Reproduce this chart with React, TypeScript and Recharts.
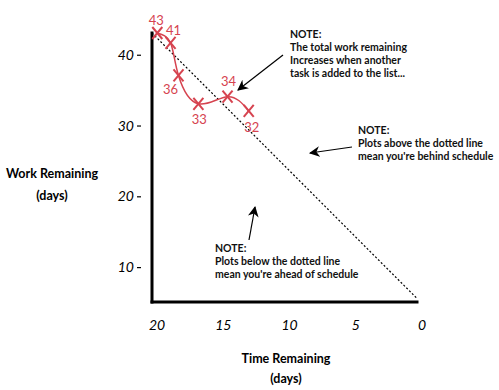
import React from "react";
import { ComposedChart, Line, XAxis, YAxis, Customized } from "recharts";

// burndown points
const timeLeft = [19.6, 18.6, 18.0, 16.5, 14.3, 12.7];
const workLeft = [43, 41.6, 37, 33, 34, 32];
const pointLabels = ["43", "41", "36", "33", "34", "32"];

// ideal burn (dotted)
const idealTime = [20, 0];
const idealWork = [43, 5.5];

const xTicks = [20, 15, 10, 5, 0];
const yTicks = [10, 20, 30, 40];

const RED = "#d6434f";
const HAND = "Lato, 'Open Sans', sans-serif";

const actual = timeLeft.map((t, i) => ({ t, work: workLeft[i], label: pointLabels[i] }));
const ideal = idealTime.map((t, i) => ({ t, ideal: idealWork[i] }));

// where each number sits relative to its cross
const labelOffset: [number, number][] = [
  [-1, -13],
  [3, -13],
  [-8, 14],
  [1, 15],
  [1, -16],
  [3, 16],
];

const CrossDot = (props: any) => {
  const { cx, cy, index } = props;
  if (cx == null || cy == null) return <g key={index} />;
  const [dx, dy] = labelOffset[index] || [0, -12];
  return (
    <g key={index}>
      <line x1={cx - 5} y1={cy - 6} x2={cx + 5} y2={cy + 6} stroke={RED} strokeWidth={2} />
      <line x1={cx + 5} y1={cy - 6} x2={cx - 5} y2={cy + 6} stroke={RED} strokeWidth={2} />
      <text x={cx + dx} y={cy + dy} textAnchor="middle" dominantBaseline="central" fill={RED} fontSize={13} fontFamily={HAND}>
        {actual[index].label}
      </text>
    </g>
  );
};

const XTick = ({ x, y, payload }: any) => (
  <text x={x + 5} y={y + 14} textAnchor="middle" dominantBaseline="central" fontSize={14} fontStyle="italic" fontFamily={HAND}>
    {payload.value}
  </text>
);

const YTick = ({ x, y, payload }: any) => (
  <g>
    <text x={x - 10} y={y} textAnchor="end" dominantBaseline="central" fontSize={14} fontStyle="italic" fontFamily={HAND}>
      {payload.value}
    </text>
    <line x1={x - 7} y1={y + 1} x2={x - 3} y2={y + 1} stroke="#000" strokeWidth={1.2} />
  </g>
);

const Note = ({ x, y, lines }: { x: number; y: number; lines: string[] }) => (
  <text x={x} y={y} fontSize={10.5} fontWeight={700} fontFamily={HAND} fill="#111">
    {lines.map((l, i) => (
      <tspan key={i} x={x} dy={i === 0 ? 0 : 13}>
        {l}
      </tspan>
    ))}
  </text>
);

const Annotations = () => (
  <g>
    <defs>
      <marker id="head" viewBox="0 0 10 10" refX="9" refY="5" markerWidth="9" markerHeight="9" orient="auto-start-reverse">
        <path d="M0,0 L10,5 L0,10 L3,5 z" fill="#000" />
      </marker>
    </defs>
    <Note x={290} y={38} lines={["NOTE:", "The total work remaining", "Increases when another", "task is added to the list..."]} />
    <line x1={283} y1={55} x2={238} y2={90} stroke="#000" strokeWidth={1.2} markerEnd="url(#head)" />

    <Note x={358} y={134} lines={["NOTE:", "Plots above the dotted line", "mean you're behind schedule"]} />
    <line x1={352} y1={147} x2={310} y2={153} stroke="#000" strokeWidth={1.2} markerEnd="url(#head)" />

    <Note x={215} y={252} lines={["NOTE:", "Plots below the dotted line", "mean you're ahead of schedule"]} />
    <line x1={249} y1={240} x2={255} y2={207} stroke="#000" strokeWidth={1.2} markerEnd="url(#head)" />

    <text x={52} y={173} textAnchor="middle" dominantBaseline="central" fontSize={12.5} fontWeight={700} fontFamily={HAND}>
      Work Remaining
    </text>
    <text x={52} y={195} textAnchor="middle" dominantBaseline="central" fontSize={12.5} fontWeight={700} fontFamily={HAND}>
      (days)
    </text>
    <text x={286} y={358} textAnchor="middle" dominantBaseline="central" fontSize={12.5} fontWeight={700} fontFamily={HAND}>
      Time Remaining
    </text>
    <text x={286} y={378} textAnchor="middle" dominantBaseline="central" fontSize={12.5} fontWeight={700} fontFamily={HAND}>
      (days)
    </text>
  </g>
);

export default function App() {
  return (
    <div style={{ position: "absolute", left: 0, top: 0, width: 499, height: 390, background: "#fff" }}>
      <ComposedChart width={499} height={390} margin={{ top: 33, right: 82, left: 112, bottom: 58 }}>
        <XAxis
          type="number"
          dataKey="t"
          domain={[0, 20]}
          reversed
          ticks={xTicks}
          tick={<XTick />}
          tickLine={false}
          axisLine={{ stroke: "#000", strokeWidth: 3, strokeLinecap: "square" }}
          height={30}
        />
        <YAxis
          type="number"
          domain={[5, 43]}
          ticks={yTicks}
          tick={<YTick />}
          tickLine={false}
          axisLine={{ stroke: "#000", strokeWidth: 3, strokeLinecap: "square" }}
          width={40}
        />
        <Line
          data={ideal}
          dataKey="ideal"
          type="linear"
          stroke="#000"
          strokeWidth={1.2}
          strokeDasharray="2 2"
          dot={false}
          isAnimationActive={false}
        />
        <Line
          data={actual}
          dataKey="work"
          type="natural"
          stroke={RED}
          strokeWidth={1.5}
          dot={CrossDot}
          activeDot={false}
          isAnimationActive={false}
        />
        <Customized component={<Annotations />} />
      </ComposedChart>
    </div>
  );
}
